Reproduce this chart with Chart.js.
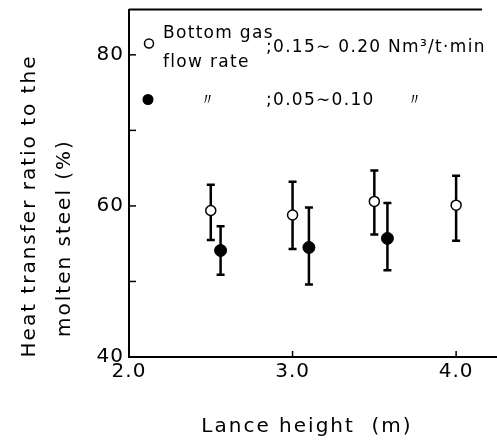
<!DOCTYPE html>
<html>
<head>
<meta charset="utf-8">
<script src="https://cdn.jsdelivr.net/npm/chart.js@4"></script>
<style>
  html, body { margin: 0; padding: 0; background: #fff; }
</style>
</head>
<body>
<canvas id="heatChart" width="497" height="446"></canvas>
<script>
// values
const lanceOpen = [2.5, 3.0, 3.5, 4.0];
const ratioOpen = [59.4, 58.8, 60.6, 60.1];
const lowOpen = [55.5, 54.3, 56.2, 55.4];
const highOpen = [62.8, 63.2, 64.7, 64.0];

const lanceFilled = [2.56, 3.1, 3.58];
const ratioFilled = [54.1, 54.5, 55.7];
const lowFilled = [50.9, 49.6, 51.5];
const highFilled = [57.3, 59.8, 60.4];

const xTicks = [2, 3, 4];
const yTicks = [40, 50, 60, 70, 80];
const yTickLabels = ["40", "", "60", "", "80"];

const fontFam = "'DejaVu Sans', sans-serif";

const toPoints = (xs, ys) => xs.map((v, i) => ({ x: v, y: ys[i] }));

// error bars, drawn under the markers
const errorBars = {
  id: "errorBars",
  beforeDatasetsDraw(chart) {
    const { ctx, scales: { x, y } } = chart;
    ctx.save();
    ctx.strokeStyle = "#000";
    ctx.lineWidth = 2.5;
    chart.data.datasets.forEach(ds => {
      ds.low.forEach((lo, i) => {
        const px = x.getPixelForValue(ds.data[i].x);
        const top = y.getPixelForValue(ds.high[i]);
        const bot = y.getPixelForValue(lo);
        ctx.beginPath();
        ctx.moveTo(px, top); ctx.lineTo(px, bot);
        ctx.moveTo(px - 4, top); ctx.lineTo(px + 4, top);
        ctx.moveTo(px - 4, bot); ctx.lineTo(px + 4, bot);
        ctx.stroke();
      });
    });
    ctx.restore();
  }
};

// inward ticks, top frame line, titles and the legend block
const decorations = {
  id: "decorations",
  beforeDraw(chart) {
    chart.ctx.letterSpacing = "1px";
  },
  afterDraw(chart) {
    const { ctx, chartArea: a, scales: { x, y } } = chart;
    ctx.save();
    ctx.strokeStyle = "#000";
    ctx.fillStyle = "#000";
    ctx.lineWidth = 2;

    ctx.beginPath();
    ctx.moveTo(a.left, a.top);
    ctx.lineTo(482, a.top);
    ctx.stroke();

    ctx.lineWidth = 1.5;
    yTicks.slice(1).forEach(v => {
      const py = y.getPixelForValue(v);
      ctx.beginPath();
      ctx.moveTo(a.left, py);
      ctx.lineTo(a.left + 7, py);
      ctx.stroke();
    });
    xTicks.slice(1).forEach(v => {
      const px = x.getPixelForValue(v);
      ctx.beginPath();
      ctx.moveTo(px, a.bottom);
      ctx.lineTo(px, a.bottom - 6);
      ctx.stroke();
    });

    ctx.textBaseline = "middle";

    // axis titles
    ctx.font = "20px " + fontFam;
    ctx.letterSpacing = "2px";
    ctx.textAlign = "center";
    ctx.fillText("Lance height  (m)", 307, 427);

    ctx.save();
    ctx.translate(30, 206);
    ctx.rotate(-Math.PI / 2);
    ctx.fillText("Heat transfer ratio to the", 0, 0);
    ctx.restore();
    ctx.save();
    ctx.translate(65, 238);
    ctx.rotate(-Math.PI / 2);
    ctx.fillText("molten steel (%)", 0, 0);
    ctx.restore();

    // legend
    ctx.lineWidth = 1.5;
    ctx.beginPath();
    ctx.arc(a.left + 20, a.top + 34, 4.5, 0, Math.PI * 2);
    ctx.fillStyle = "#fff";
    ctx.fill();
    ctx.stroke();
    ctx.fillStyle = "#000";
    ctx.beginPath();
    ctx.arc(a.left + 19, a.top + 90, 5.5, 0, Math.PI * 2);
    ctx.fill();

    ctx.font = "17px " + fontFam;
    ctx.letterSpacing = "1.3px";
    ctx.textAlign = "left";
    ctx.fillText("Bottom gas", 163, 34);
    ctx.fillText("flow rate", 163, 63);
    ctx.fillText(";0.15\u223C 0.20 Nm\u00B3/t\u00B7min", 266, 48);
    ctx.fillText(";0.05\u223C0.10", 266, 101);
    ctx.textAlign = "center";
    ctx.fillText("\u3003", 208, 101);
    ctx.fillText("\u3003", 415, 101);

    ctx.restore();
  }
};

new Chart(document.getElementById("heatChart"), {
  type: "scatter",
  data: {
    datasets: [
      {
        label: "0.15~0.20",
        data: toPoints(lanceOpen, ratioOpen),
        low: lowOpen,
        high: highOpen,
        pointRadius: 5,
        pointBackgroundColor: "#fff",
        pointBorderColor: "#000",
        pointBorderWidth: 1.5
      },
      {
        label: "0.05~0.10",
        data: toPoints(lanceFilled, ratioFilled),
        low: lowFilled,
        high: highFilled,
        pointRadius: 6,
        pointBackgroundColor: "#000",
        pointBorderColor: "#000",
        pointBorderWidth: 1
      }
    ]
  },
  options: {
    responsive: false,
    animation: false,
    layout: { autoPadding: false, padding: { top: 9.5, right: 0, left: 0, bottom: 0 } },
    plugins: {
      legend: { display: false },
      tooltip: { enabled: false }
    },
    scales: {
      x: {
        type: "linear",
        min: 2,
        max: 4.25,
        afterFit(s) {
          s.height = 89;
          s.paddingLeft = 0;
          s.paddingRight = 0;
        },
        afterBuildTicks(s) { s.ticks = xTicks.map(v => ({ value: v })); },
        grid: { display: false, drawTicks: false },
        border: { display: true, color: "#000", width: 2 },
        ticks: {
          color: "#000",
          padding: 3,
          font: { family: fontFam, size: 20 },
          maxRotation: 0,
          callback: v => v.toFixed(1)
        }
      },
      y: {
        type: "linear",
        min: 40,
        max: 86,
        afterFit(s) {
          s.width = 129;
          s.paddingTop = 0;
          s.paddingBottom = 0;
        },
        afterBuildTicks(s) { s.ticks = yTicks.map(v => ({ value: v })); },
        grid: { display: false, drawTicks: false },
        border: { display: true, color: "#000", width: 2 },
        ticks: {
          color: "#000",
          padding: 5,
          font: { family: fontFam, size: 20 },
          callback: (v, i) => yTickLabels[i]
        }
      }
    }
  },
  plugins: [errorBars, decorations]
});
</script>
</body>
</html>
